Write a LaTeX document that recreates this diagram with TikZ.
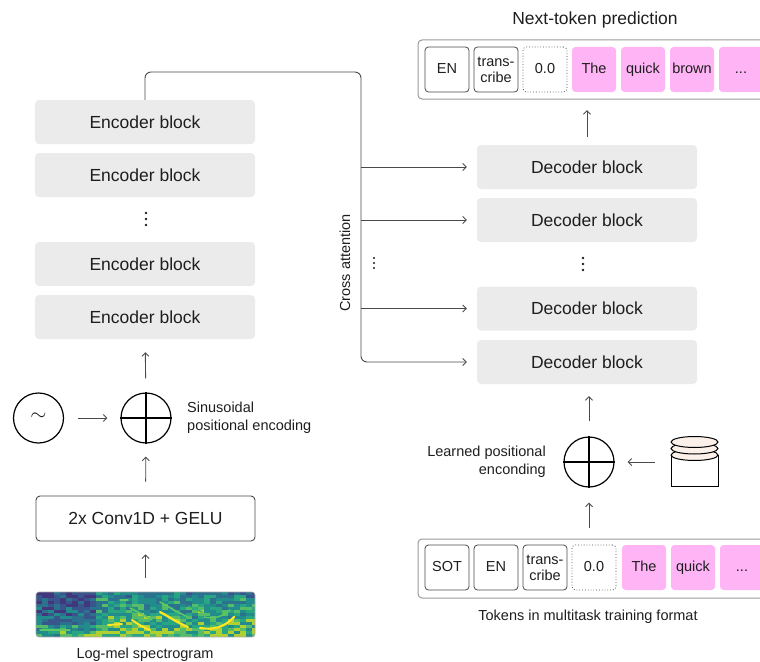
\documentclass[tikz,border=0pt]{standalone}
\usepackage{fontspec}
\setmainfont{Liberation Sans}
\usetikzlibrary{arrows.meta}

\definecolor{ink}{HTML}{1E1E1E}
\definecolor{blockgray}{HTML}{EBEBEB}
\definecolor{tokpink}{HTML}{FFB4F6}
\definecolor{linegray}{HTML}{4A4A4A}
\definecolor{framegray}{HTML}{9A9A9A}
\definecolor{discpeach}{HTML}{FBF0EA}
% viridis ramp for the spectrogram
\definecolor{vir0}{HTML}{472D7B}
\definecolor{vir1}{HTML}{3B528B}
\definecolor{vir2}{HTML}{2C728E}
\definecolor{vir3}{HTML}{21918C}
\definecolor{vir4}{HTML}{28AE80}
\definecolor{vir5}{HTML}{5EC962}
\definecolor{vir6}{HTML}{C8E020}
\definecolor{vir7}{HTML}{FDE725}

\tikzset{
  block/.style={fill=blockgray, rounded corners=4pt, minimum width=220pt,
    minimum height=44pt, inner sep=0pt, text=ink,
    font=\fontsize{17.5}{19}\selectfont},
  tok/.style={draw=linegray, line width=0.8pt, rounded corners=3.5pt,
    minimum width=44pt, minimum height=45pt, inner sep=0pt, text=ink,
    align=center, font=\fontsize{14.5}{16}\selectfont},
  one/.style={text height=10.5pt, text depth=3pt},
  dottok/.style={tok, one, dotted},
  pinktok/.style={tok, one, draw=none, fill=tokpink},
  frame/.style={draw=framegray, line width=1pt, rounded corners=4pt},
  arr/.style={draw=linegray, line width=0.9pt,
    -{Straight Barb[length=3.5pt,width=7pt]},
    shorten <=14pt, shorten >=13pt},
  disc/.style={circle, draw=black, line width=1.2pt, minimum size=50pt,
    inner sep=0pt},
  lbl/.style={text=ink, inner sep=0pt, font=\fontsize{14.5}{18}\selectfont},
  dot/.style={fill=ink}
}

\begin{document}
\begin{tikzpicture}[x=1pt, y=-1pt]
\useasboundingbox (0,0) rectangle (760,661);
\clip (0,0) rectangle (760,661);

% ---------------- encoder side ----------------
\node[block] (enc1) at (145,122) {Encoder block};
\node[block] (enc2) at (145,175) {Encoder block};
\node[block] (enc3) at (145,264) {Encoder block};
\node[block] (enc4) at (145,317) {Encoder block};
\foreach \yy in {213,219,225} \fill[dot] (146,\yy) circle (1.3pt);

\node[disc] (sin) at (38.5,418) {};
\node[text=ink, inner sep=0pt, font=\fontsize{22}{22}\selectfont] (tilde) at (38.5,417) {$\sim$};
\node[disc] (eplus) at (146,418) {};
\draw[black, line width=1.2pt] (eplus.north) -- (eplus.south) (eplus.west) -- (eplus.east);
\node[lbl, anchor=west, align=left] (sinlbl) at (187,418) {Sinusoidal\\positional encoding};

\node[draw=linegray, line width=0.9pt, rounded corners=4pt, minimum width=219pt,
  minimum height=45pt, inner sep=0pt, text=ink,
  font=\fontsize{17.5}{19}\selectfont] (conv) at (145.5,518.5) {2x Conv1D + GELU};

% spectrogram
\node[minimum width=219pt, minimum height=45pt, inner sep=0pt] (spec) at (145.5,614.5) {};
\begin{scope}
  \clip[rounded corners=3pt] (36,592) rectangle (255,637);
  \fill[vir2] (36,592) rectangle (255,637);
  \pgfmathsetseed{42}
  \foreach \r in {0,...,14}{
    \foreach \c in {0,...,36}{
      \pgfmathsetmacro\v{0.30*rnd + 0.22*\r/14 + ((\c>9) ? 0.10 : -0.12*(\r<11)) + 0.10}
      \ifdim\v pt<0.14pt \def\cc{vir0}\else
      \ifdim\v pt<0.24pt \def\cc{vir1}\else
      \ifdim\v pt<0.34pt \def\cc{vir2}\else
      \ifdim\v pt<0.44pt \def\cc{vir3}\else
      \ifdim\v pt<0.52pt \def\cc{vir4}\else
      \ifdim\v pt<0.58pt \def\cc{vir5}\else
      \def\cc{vir6}\fi\fi\fi\fi\fi\fi
      \fill[\cc, opacity=0.85] (36+6*\c,592+3*\r) rectangle ++(6.2,3.1);
    }
  }
  % bright harmonics
  \draw[vir7, line width=2pt, line cap=round] (108,625) -- (122,624);
  \draw[vir7, line width=2pt, line cap=round] (132,620) .. controls (138,624) and (144,628) .. (150,630);
  \draw[vir5, line width=1.6pt, line cap=round] (130,608) .. controls (138,612) and (146,616) .. (152,620);
  \draw[vir7, line width=2.2pt, line cap=round] (160,612) .. controls (168,616) and (176,622) .. (188,627);
  \draw[vir5, line width=1.6pt, line cap=round] (160,602) .. controls (168,606) and (176,612) .. (186,616);
  \draw[vir7, line width=2.2pt, line cap=round] (200,628) .. controls (212,630) and (224,628) .. (234,617);
  \draw[vir5, line width=1.4pt, line cap=round] (204,617) .. controls (214,619) and (222,617) .. (230,610);
  \draw[vir5, line width=1.4pt, line cap=round] (120,600) -- (128,600);
  \draw[vir4, line width=1.4pt, line cap=round] (188,606) .. controls (194,608) and (198,610) .. (202,612);
  \draw[vir5, line width=1.4pt, line cap=round] (40,630) -- (70,630);
\end{scope}
\draw[gray!70, line width=0.6pt, rounded corners=3pt] (36,592) rectangle (255,637);
\node[lbl] (speclbl) at (145,655) {Log-mel spectrogram};

% encoder stack arrows
\draw[arr] (spec) -- (conv);
\draw[arr] (conv) -- (eplus);
\draw[arr] (sin) -- (eplus);
\draw[arr] (eplus) -- (enc4);

% ---------------- decoder side ----------------
\node[block] (dec1) at (587,167) {Decoder block};
\node[block] (dec2) at (587,220) {Decoder block};
\node[block] (dec3) at (587,308.5) {Decoder block};
\node[block] (dec4) at (587,362) {Decoder block};
\foreach \yy in {258,264,270} \fill[dot] (583,\yy) circle (1.3pt);

% cross attention from the encoder output
\coordinate (caTop) at (361,72);
\draw[arr, rounded corners=6pt, shorten <=0pt, shorten >=10pt]
  (enc1.north) |- (caTop) |- (dec4.west);
\draw[arr, shorten <=0pt, shorten >=10pt] (caTop |- dec1.west) -- (dec1.west);
\draw[arr, shorten <=0pt, shorten >=10pt] (caTop |- dec2.west) -- (dec2.west);
\draw[arr, shorten <=0pt, shorten >=10pt] (caTop |- dec3.west) -- (dec3.west);
\node[lbl, rotate=90] (calbl) at (345,263) {Cross attention};
\foreach \yy in {258,263,268} \fill[dot] (374,\yy) circle (1.2pt);

% output tokens
\node[lbl, font=\fontsize{17.5}{19}\selectfont] (title) at (595,20) {Next-token prediction};
\draw[frame] (418,40) rectangle (800,99);
\node[minimum width=342pt, minimum height=59pt, inner sep=0pt] (outbox) at (589,69.5) {};
\node[tok, one] (o1) at (447,69.5) {EN};
\node[tok] (o2) at (496,69.5) {trans-\\cribe};
\node[dottok] (o3) at (545,69.5) {0.0};
\node[pinktok] (o4) at (594,69.5) {The};
\node[pinktok] (o5) at (643,69.5) {quick};
\node[pinktok] (o6) at (692,69.5) {brown};
\node[pinktok] (o7) at (741,69.5) {...};

% input tokens
\draw[frame] (418,539) rectangle (800,598);
\node[minimum width=342pt, minimum height=59pt, inner sep=0pt] (inbox) at (589,568.5) {};
\node[tok, one] (i1) at (447,567.5) {SOT};
\node[tok, one] (i2) at (496,567.5) {EN};
\node[tok] (i3) at (545,567.5) {trans-\\cribe};
\node[dottok] (i4) at (594,567.5) {0.0};
\node[pinktok] (i5) at (644,567.5) {The};
\node[pinktok] (i6) at (693,567.5) {quick};
\node[pinktok] (i7) at (742,567.5) {...};
\node[lbl] (inlbl) at (588,617) {Tokens in multitask training format};

% learned positional encoding
\node[disc] (dplus) at (589,462) {};
\draw[black, line width=1.2pt] (dplus.north) -- (dplus.south) (dplus.west) -- (dplus.east);
\node[lbl, anchor=east, align=right] (lrnlbl) at (546,462) {Learned positional\\enconding};

% embedding table drawn as a stack of discs
\node[minimum width=47pt, minimum height=48pt, inner sep=0pt] (cyl) at (694.5,462) {};
\draw[black, line width=1pt, fill=white] (671,455) rectangle (718,486);
\foreach \yy in {455,448.5,442}
  \draw[black, line width=1pt, fill=discpeach] (694.5,\yy) ellipse [x radius=23.5pt, y radius=5.5pt];

% decoder arrows
\draw[arr, shorten <=8pt, shorten >=11pt] (dec1.north) -- (dec1.north |- outbox.south);
\draw[arr, shorten <=11pt, shorten >=15pt] (inbox.north -| dplus) -- (dplus);
\draw[arr, shorten <=15pt, shorten >=12pt] (dplus) -- (dplus |- dec4.south);
\draw[arr, shorten <=16pt, shorten >=13pt] (cyl.west) -- (dplus);
\end{tikzpicture}
\end{document}
